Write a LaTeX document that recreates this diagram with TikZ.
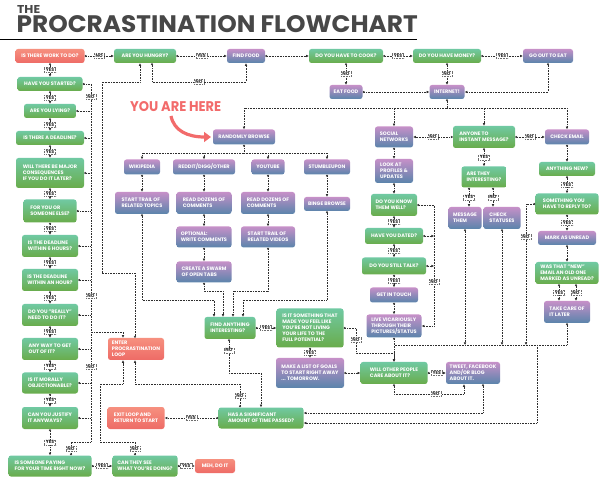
\documentclass[tikz,border=0pt]{standalone}
\usepackage{fontspec}
\setmainfont{Poppins}
\usepackage{graphicx}
\usetikzlibrary{arrows.meta}

\definecolor{gtop}{HTML}{70C9A2}
\definecolor{gbot}{HTML}{69AC4B}
\definecolor{ptop}{HTML}{C690C8}
\definecolor{pbot}{HTML}{5A84AB}
\definecolor{rtop}{HTML}{F6907F}
\definecolor{rbot}{HTML}{EE6B66}
\definecolor{ink}{HTML}{2E2E2E}
\definecolor{titlegray}{HTML}{474747}
\definecolor{herered}{HTML}{F26B6B}

\newcommand\boxfont{\fontsize{5}{5.9}\selectfont\bfseries}
\newcommand\tagfont{\fontsize{4.6}{4.6}\selectfont\bfseries}

\begin{document}
\begin{tikzpicture}[x=1pt, y=-1pt,
  box/.style={rounded corners=2.5pt, inner sep=1.5pt, text=white, font=\boxfont, align=left},
  grn/.style={box, top color=gtop, bottom color=gbot},
  ppl/.style={box, top color=ptop, bottom color=pbot},
  sal/.style={box, top color=rtop, bottom color=rbot},
  sz/.style 2 args={minimum width=#1pt, minimum height=#2pt},
  tag/.style={draw=ink!70, fill=white, text=ink, font=\tagfont, inner xsep=1.4pt, inner ysep=0.8pt, line width=0.35pt},
  dots/.style={densely dotted, line width=0.6pt, draw=ink},
  flow/.style={dots, {Circle[open,length=2pt,width=2pt]}-{Latex[length=2.6pt,width=2.6pt]}},
  into/.style={dots, -{Latex[length=2.6pt,width=2.6pt]}},
  stub/.style={dots, {Circle[open,length=2pt,width=2pt]}-},
]
\useasboundingbox (0,0) rectangle (600,478);

% title
\node[anchor=south west, inner sep=0pt, text=titlegray] (the) at (17,14) {\resizebox{23pt}{8pt}{\bfseries THE}};
\node[anchor=south west, inner sep=0pt, text=titlegray] (title) at (16.5,33) {\resizebox{401pt}{17pt}{\bfseries PROCRASTINATION FLOWCHART}};
\draw[line width=1.6pt] (0,39.5) -- (417,39.5);

% top row
\node[sal, sz={69}{14}] (work) at (50,56) {IS THERE WORK TO DO?};
\node[grn, sz={62}{14}] (hungry) at (145,56) {ARE YOU HUNGRY?};
\node[ppl, sz={38}{14}] (food) at (246,56) {FIND FOOD};
\node[grn, sz={74}{14}] (cook) at (346,56) {DO YOU HAVE TO COOK?};
\node[grn, sz={68}{14}] (money) at (447,56) {DO YOU HAVE MONEY?};
\node[ppl, sz={50}{14}] (goout) at (548,56) {GO OUT TO EAT};
\node[ppl, sz={33}{14}] (eat) at (346,92) {EAT FOOD};
\node[ppl, sz={35}{14}] (inet) at (447,92) {INTERNET!};

% left column
\node[grn, sz={65}{14}] (started) at (50,84) {HAVE YOU STARTED?};
\node[grn, sz={52}{14}] (lying) at (50,111) {ARE YOU LYING?};
\node[grn, sz={68}{14}] (deadline) at (50,138) {IS THERE A DEADLINE?};
\node[grn, sz={68}{30}] (conseq) at (50,173) {WILL THERE BE MAJOR\\CONSEQUENCES\\IF YOU DO IT LATER?};
\node[grn, sz={53}{23}] (foryou) at (50,211) {FOR YOU OR\\SOMEONE ELSE?};
\node[grn, sz={56}{22}] (hours6) at (50,246) {IS THE DEADLINE\\WITHIN 6 HOURS?};
\node[grn, sz={56}{22}] (hour1) at (50,280) {IS THE DEADLINE\\WITHIN AN HOUR?};
\node[grn, sz={56}{22}] (really) at (50,315) {DO YOU "REALLY"\\NEED TO DO IT?};
\node[grn, sz={56}{22}] (getout) at (50,349) {ANY WAY TO GET\\OUT OF IT?};
\node[grn, sz={56}{21}] (moral) at (50,383) {IS IT MORALLY\\OBJECTIONABLE?};
\node[grn, sz={56}{22}] (justify) at (50,418) {CAN YOU JUSTIFY\\IT ANYWAYS?};
\node[grn, sz={83}{21}] (paying) at (50,466) {IS SOMEONE PAYING\\FOR YOUR TIME RIGHT NOW?};
\node[grn, sz={65}{21}] (cansee) at (145,466) {CAN THEY SEE\\WHAT YOU'RE DOING?};
\node[sal, sz={40}{14}] (meh) at (215,466) {MEH, DO IT};
\node[sal, sz={57}{22}] (exitloop) at (136,418) {EXIT LOOP AND\\RETURN TO START};
\node[sal, sz={56}{22}] (enter) at (136,349) {ENTER\\PROCRASTINATION\\LOOP};

% browsing
\node[text=herered, anchor=south west, inner sep=0pt] (here) at (130,112) {\resizebox{91pt}{10pt}{\bfseries YOU ARE HERE}};
\node[ppl, sz={62}{15}] (browse) at (244,137) {RANDOMLY BROWSE};
\node[ppl, sz={36}{15}] (wiki) at (142,167) {WIKIPEDIA};
\node[ppl, sz={62}{15}] (reddit) at (204,167) {REDDIT/DIGG/OTHER};
\node[ppl, sz={33}{15}] (youtube) at (268,167) {YOUTUBE};
\node[ppl, sz={46}{15}] (stumble) at (327,167) {STUMBLEUPON};
\node[ppl, sz={54}{22}] (trailT) at (142,203) {START TRAIL OF\\RELATED TOPICS};
\node[ppl, sz={55}{22}] (readR) at (204,203) {READ DOZENS OF\\COMMENTS};
\node[ppl, sz={54}{22}] (readY) at (268,203) {READ DOZENS OF\\COMMENTS};
\node[ppl, sz={46}{14}] (binge) at (327,204) {BINGE BROWSE};
\node[ppl, sz={55}{21}] (writeC) at (204,237) {OPTIONAL:\\WRITE COMMENTS};
\node[ppl, sz={54}{21}] (trailV) at (268,237) {START TRAIL OF\\RELATED VIDEOS};
\node[ppl, sz={55}{21}] (swarm) at (204,272) {CREATE A SWARM\\OF OPEN TABS};

% middle
\node[grn, sz={51}{22}] (findany) at (230,328) {FIND ANYTHING\\INTERESTING?};
\node[grn, sz={67}{39}] (feel) at (310,328) {IS IT SOMETHING THAT\\MADE YOU FEEL LIKE\\YOU'RE NOT LIVING\\YOUR LIFE TO THE\\FULL POTENTIAL?};
\node[ppl, sz={68}{30}] (goals) at (310,373) {MAKE A LIST OF GOALS\\TO START RIGHT AWAY\\... TOMORROW.};
\node[grn, sz={67}{22}] (care) at (394,373) {WILL OTHER PEOPLE\\CARE ABOUT IT?};
\node[ppl, sz={54}{22}] (tweet) at (473,373) {TWEET, FACEBOOK\\AND/OR BLOG\\ABOUT IT.};
\node[grn, sz={85}{21}] (timepass) at (261,418) {HAS A SIGNIFICANT\\AMOUNT OF TIME PASSED?};

% social
\node[ppl, sz={38}{21}] (social) at (394,137) {SOCIAL\\NETWORKS};
\node[grn, sz={62}{22}] (anyone) at (484,137) {ANYONE TO\\INSTANT MESSAGE?};
\node[ppl, sz={44}{15}] (email) at (567,137) {CHECK EMAIL};
\node[ppl, sz={38}{24}] (profiles) at (394,171) {LOOK AT\\PROFILES \&\\UPDATES};
\node[grn, sz={46}{22}] (knowwell) at (394,205) {DO YOU KNOW\\THEM WELL?};
\node[grn, sz={58}{16}] (dated) at (394,236) {HAVE YOU DATED?};
\node[grn, sz={64}{17}] (talk) at (394,266) {DO YOU STILL TALK?};
\node[ppl, sz={48}{15}] (touch) at (394,295) {GET IN TOUCH};
\node[ppl, sz={55}{23}] (live) at (394,326) {LIVE VICARIOUSLY\\THROUGH THEIR\\PICTURES/STATUS};
\node[grn, sz={45}{21}] (interest) at (484,177) {ARE THEY\\INTERESTING?};
\node[ppl, sz={33}{22}] (message) at (465,218) {MESSAGE\\THEM};
\node[ppl, sz={37}{22}] (statuses) at (502,218) {CHECK\\STATUSES};

% email
\node[grn, sz={56}{14}] (anynew) at (567,169) {ANYTHING NEW?};
\node[grn, sz={63}{21}] (reply) at (567,204) {SOMETHING YOU\\HAVE TO REPLY TO?};
\node[ppl, sz={58}{14}] (unread) at (567,238) {MARK AS UNREAD};
\node[grn, sz={63}{22}] (wasnew) at (567,273) {WAS THAT "NEW"\\EMAIL AN OLD ONE\\MARKED AS UNREAD?};
\node[ppl, sz={46}{22}] (later) at (567,312) {TAKE CARE OF\\IT LATER};

\draw[herered, line width=3.2pt, -{Triangle[length=7pt,width=10pt]}] (171,116) .. controls (174,131) and (188,137) .. (211,137);

% top row links
\draw[flow] (work) -- node[tag]{NO} (hungry);
\draw[flow] (hungry) -- node[tag]{YES} (food);
\draw[flow] (food) -- (cook);
\draw[flow] (cook) -- node[tag]{YES} (money);
\draw[flow] (money) -- node[tag]{YES} (goout);
\draw[flow] (cook) -- node[tag]{NO} (eat);
\draw[flow] (money) -- node[tag]{NO} (inet);
\draw[flow] (eat) -- (inet);
\draw[flow] (goout) |- (inet);
\draw[flow] (hungry.south -| 152,0) -- (152,82) -- node[tag]{NO} (246,82) -- (food);
\draw[flow] (enter.north -| 135,0) -- (135,273) -- (102,273) -- (102,82) -- (140,82) -- (hungry.south -| 140,0);

% left column
\draw[flow] (work) -- node[tag]{YES} (started);
\foreach \a/\b in {started/lying, lying/deadline, deadline/conseq, conseq/foryou, foryou/hours6, hours6/hour1, hour1/really, really/getout, getout/moral, moral/justify, justify/paying}
  \draw[flow] (\a) -- node[tag]{YES} (\b);
\draw[flow] (started) -| (91,332) node[tag] at (91,97){NO} node[tag] at (91,296){NO} -- (123,332) -- (enter.north -| 123,0);
\foreach \n in {lying,deadline,conseq,foryou,hours6,hour1,really,getout,moral,justify}
  \draw[stub] (\n) -- (\n -| 91,0);
\draw[stub] (paying.north -| 71,0) -- node[tag]{NO} (71,442) -| (91,332) node[tag] at (91,367){NO};
\draw[flow] (paying) -- node[tag]{YES} (cansee);
\draw[flow] (cansee) -- node[tag]{YES} (meh);
\draw[flow] (cansee.north -| 135,0) -- node[tag]{NO} (135,442) -- (100,442) -- (100,384) -- (123,384) -- (enter.south -| 123,0);

% internet
\coordinate (ibus) at (447,108);
\draw[stub] (inet) -- (ibus);
\foreach \t in {browse,social,anyone,email}
  \draw[into] (ibus) -| (\t);

% browsing
\coordinate (bbus) at (244,153);
\draw[stub] (browse) -- (bbus);
\foreach \t in {wiki,reddit,youtube,stumble}
  \draw[into] (bbus) -| (\t);
\draw[flow] (wiki) -- (trailT);
\draw[flow] (reddit) -- (readR);
\draw[flow] (readR) -- (writeC);
\draw[flow] (writeC) -- (swarm);
\draw[flow] (youtube) -- (readY);
\draw[flow] (readY) -- (trailV);
\draw[flow] (stumble) -- (binge);
\draw[flow] (trailT) |- (214,300) -- (findany.north -| 214,0);
\draw[flow] (swarm) |- (223,291) -- (findany.north -| 223,0);
\draw[flow] (trailV) |- (233,291) -- (findany.north -| 233,0);
\draw[flow] (binge) |- (243,300) -- (findany.north -| 243,0);

% middle
\draw[flow] (findany) -- node[tag]{YES} (feel);
\draw[flow] (feel) -- node[tag]{YES} (goals);
\draw[flow] (goals) -- (care);
\draw[flow] (care) -- node[tag]{YES} (tweet);
\draw[flow] (feel) -- (356,328) |- (care.north |- 0,353) node[tag] at (356,340){NO} -- (care);
\draw[flow] (care) |- (464,394) node[tag] at (436,394){NO} -- (tweet.south -| 464,0);
\draw[flow] (tweet.south -| 483,0) |- (timepass.east |- 0,413);
\draw[flow] (findany.south -| 229,0) -- node[tag, pos=0.33]{NO} (229,373) -| (timepass.north -| 261,0);
\draw[flow] (timepass) -- node[tag]{YES} (exitloop);
\draw[flow] (timepass.north -| 240,0) -- node[tag]{NO} (240,384) -| (enter.south -| 135,0);

% social
\draw[flow] (anyone) -- node[tag]{NO} (social);
\draw[flow] (anyone) -- node[tag]{NO} (email);
\draw[flow] (anyone) -- node[tag]{YES} (interest);
\draw[flow] (interest.south -| 469,0) -- node[tag]{YES} (message.north -| 469,0);
\draw[flow] (interest.south -| 493,0) -- node[tag]{NO} (statuses.north -| 493,0);
\draw[flow] (social) -- (profiles);
\draw[flow] (profiles) -- (knowwell);
\draw[flow] (knowwell) -- node[tag]{YES} (dated);
\draw[flow] (dated) -- node[tag]{YES} (talk);
\draw[flow] (talk) -- node[tag]{YES} (touch);
\draw[flow] (touch) -- (live);
\draw[flow] (knowwell) -| (434,326) node[tag] at (434,282){NO} -- (live);
\draw[flow] (dated) -- (dated -| 434,0);
\draw[flow] (talk) -- (talk -| 434,0);

% email
\draw[flow] (email) -- (anynew);
\draw[flow] (anynew) -- node[tag]{YES} (reply);
\draw[flow] (reply) -- node[tag]{YES} (unread);
\draw[flow] (unread) -- (wasnew);
\draw[flow] (wasnew.south -| 559,0) -- node[tag]{YES} (later.north -| 559,0);
\draw[flow] (wasnew.south -| 576,0) -- node[tag]{NO} (later.north -| 576,0);
\draw[flow] (reply) -| (526,345) node[tag] at (526,237){NO};

% lower bus
\coordinate (rbus) at (537,345);
\draw[stub] (later) |- (394,345);
\draw[flow] (message) -- (message |- rbus);
\draw[flow] (statuses) -- (statuses |- rbus);
\draw[flow] (live) -- (care);
\draw[into] (rbus) |- (timepass.east |- 0,423);
\end{tikzpicture}
\end{document}
